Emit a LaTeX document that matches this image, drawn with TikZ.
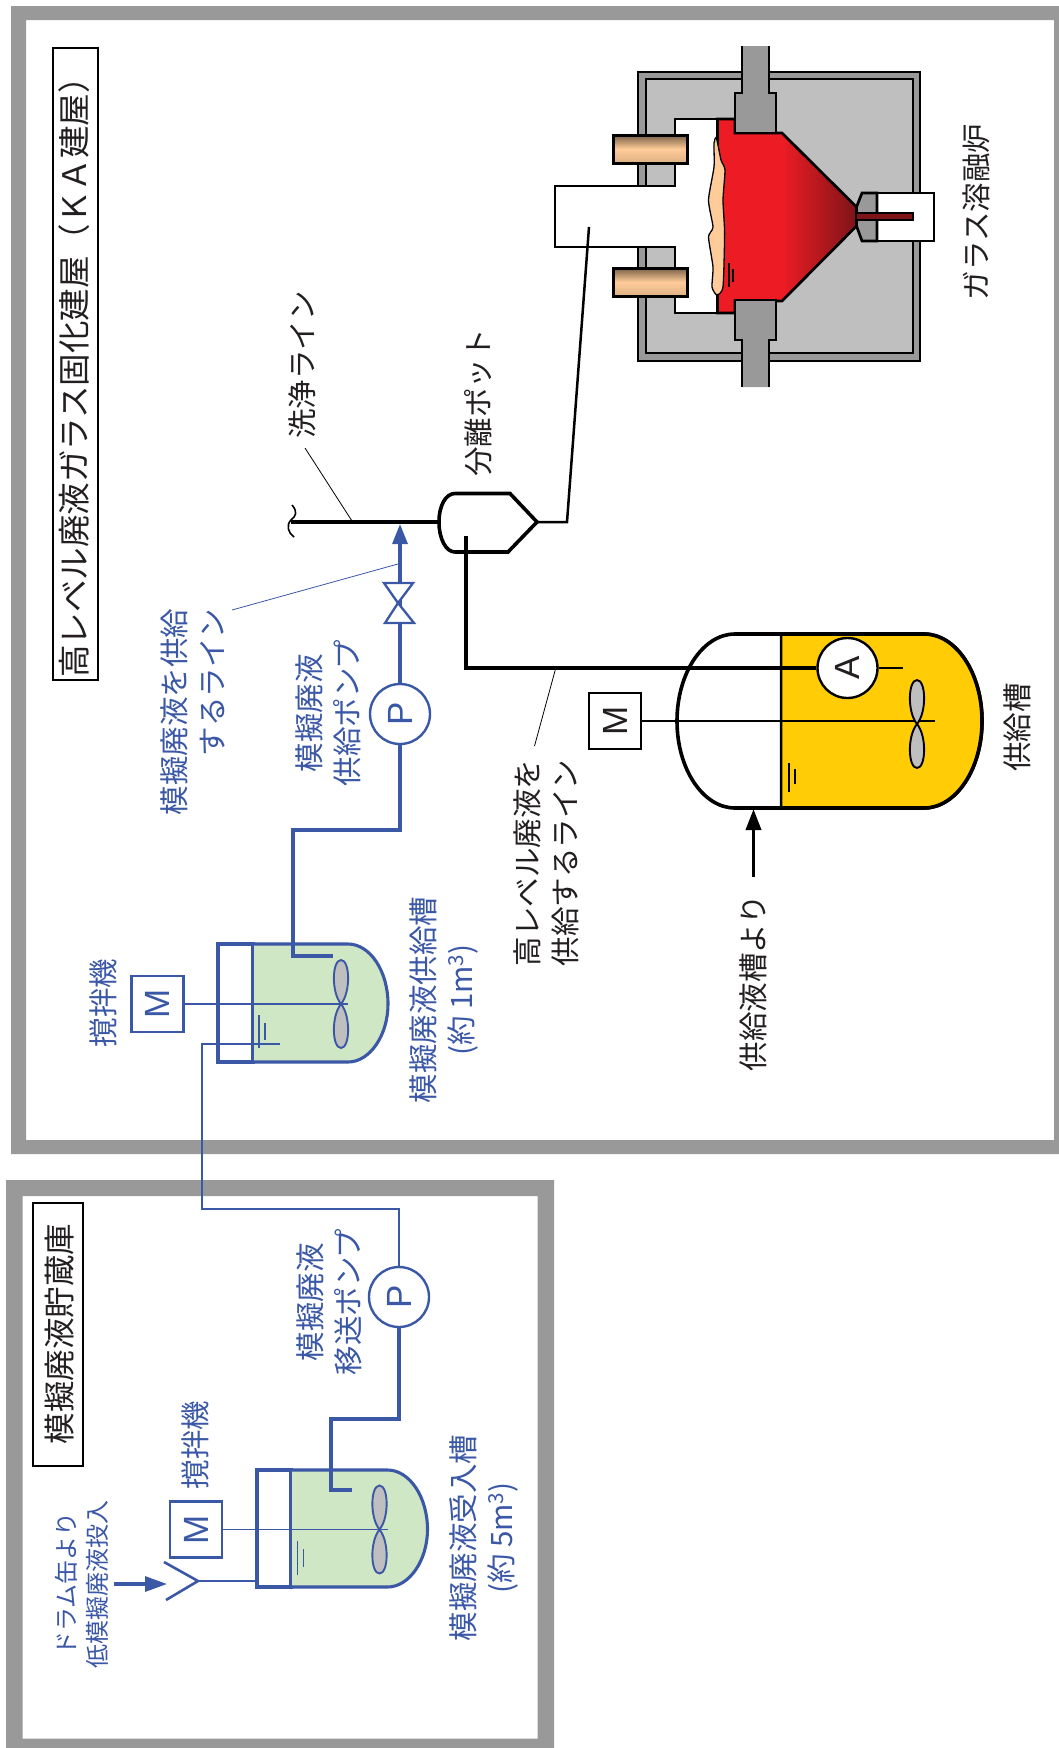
\documentclass[tikz,border=0pt]{standalone}
\usepackage{fontspec}
\setmainfont{Noto Sans CJK JP}
\newfontfamily\simbolo{Liberation Sans}
\usetikzlibrary{arrows.meta}

\definecolor{muro}{RGB}{153,153,153}
\definecolor{gris}{RGB}{191,191,191}
\definecolor{azul}{RGB}{59,88,166}
\definecolor{negro}{RGB}{35,31,32}
\definecolor{verde}{RGB}{208,231,197}
\definecolor{amarillo}{RGB}{255,204,5}
\definecolor{rojo}{RGB}{237,28,36}
\definecolor{rojooscuro}{RGB}{125,20,24}
\definecolor{crema}{RGB}{255,204,153}
\definecolor{marron}{RGB}{120,95,70}

\tikzset{
    etiqueta/.style={rotate=90, align=center, inner sep=0pt, text=negro, font=\fontsize{29.5}{38}\selectfont},
    etiquetaazul/.style={etiqueta, text=azul},
    caja/.style={draw=black, line width=2pt},
    bomba/.style={circle, draw, fill=white, minimum size=60pt, inner sep=0pt, rotate=90, line width=2.4pt, font=\simbolo\fontsize{35}{35}\selectfont},
    motor/.style={rectangle, draw, fill=white, minimum width=56pt, minimum height=52pt, inner sep=0pt, rotate=90, line width=2.2pt, font=\simbolo\fontsize{35}{35}\selectfont},
    tuboazul/.style={draw=azul, line width=3.1pt},
    tuboazulfino/.style={draw=azul, line width=2.6pt},
    tubonegro/.style={draw=black, line width=3.1pt},
    tubonegrofino/.style={draw=black, line width=2.5pt},
    linea/.style={draw=black, line width=2.7pt},
    recipiente/.style={draw=black, line width=3.6pt},
    guia/.style={line width=0.8pt},
    pics/helice/.style={code={
        \foreach \s in {1,-1}
            \draw[fill=gris, line width=1.9pt] (0,0) .. controls (-10,-12*\s) and (-9,-44*\s) .. (0,-44*\s)
                .. controls (9,-44*\s) and (10,-12*\s) .. (0,0);
    }},
}

\begin{document}
\begin{tikzpicture}[x=1pt, y=-1pt]
    \useasboundingbox (0,0) rectangle (1059,1748);
    \fill[white] (0,0) rectangle (1059,1748);

    % Muros
    \fill[muro, even odd rule] (11,6) rectangle (1059,1154) (26,20) rectangle (1054,1140);
    \fill[muro, even odd rule] (6,1180) rectangle (554,1748) (22.5,1196) rectangle (537.5,1738.5);

    % Titulos
    \draw[caja] (52.5,48) rectangle (97.5,680);
    \draw[caja] (33,1203) rectangle (83,1466);
    \node[etiqueta, font=\fontsize{32.5}{38}\selectfont] (tituloka) at (74.5,369.5) {高レベル廃液ガラス固化建屋（ＫＡ建屋）};
    \node[etiqueta, font=\fontsize{31.5}{38}\selectfont] (titulodepo) at (60,1334) {模擬廃液貯蔵庫};

    % Horno
    \draw[linea, fill=muro] (638,72) rectangle (920,361);
    \draw[linea, fill=gris] (646,79) rectangle (913,353);
    \draw[linea, fill=white] (717.5,119) -- (675,119) -- (675,186) -- (555,186) -- (555,247) -- (675,247) -- (675,313) -- (717.5,313);
    \fill[rojo] (717.5,119) -- (735,119) -- (735,133) -- (782,133) -- (782,301) -- (735,301) -- (735,313) -- (717.5,313) -- cycle;
    \shade[left color=rojo, right color=rojooscuro] (782,133) -- (856.5,207) -- (856.5,226) -- (782,301) -- cycle;
    \draw[linea] (717.5,119) -- (735,119) -- (735,133) -- (782,133) -- (856.5,207) -- (856.5,226) -- (782,301) -- (735,301) -- (735,313) -- (717.5,313) -- cycle;
    \filldraw[draw=black, line width=1.3pt, fill=crema] plot[smooth cycle, tension=0.35] coordinates {
        (716.4,138) (721,160) (725,170) (723,200) (724.6,233) (723,287) (716.8,295)
        (712,287) (713,267) (708.5,237) (713,227) (708.5,200) (714,167) (714,143)};
    \draw[line width=2pt] (729,263) -- (729,287);
    \draw[line width=1.8pt] (733,269) -- (733,282);

    % Electrodos
    \foreach \y/\s in {46/1, 387/-1}
        \draw[linea, fill=muro] (742,\y) -- (742,\y+47*\s) -- (735,\y+47*\s) -- (735,\y+87*\s) -- (776,\y+87*\s) -- (776,\y+47*\s) -- (769,\y+47*\s) -- (769,\y);
    \foreach \y in {135,268}
        \draw[draw=black, line width=3pt, top color=marron, bottom color=crema!75!marron, middle color=crema] (613,\y) rectangle (687,\y+28);

    % Boquilla
    \draw[linea, fill=white] (877,193) rectangle (934,241);
    \draw[linea, fill=muro] (856.5,207) -- (862,193) -- (877,193) -- (877,241) -- (862,241) -- (856.5,226) -- cycle;
    \draw[line width=1.8pt, fill=rojooscuro] (856.5,213) rectangle (913,220);
    \node[etiqueta] (horno) at (976,212) {ガラス溶融炉};

    % Tanque de alimentacion
    \draw[recipiente, fill=white] (735,634) .. controls (703,634) and (677,673) .. (677,721)
        .. controls (677,769) and (703,808) .. (735,808) -- (924,808)
        .. controls (956,808) and (982,769) .. (982,721) .. controls (982,673) and (956,634) .. (924,634) -- cycle;
    \draw[tubonegrofino, fill=amarillo] (781,634) -- (924,634) .. controls (956,634) and (982,673) .. (982,721)
        .. controls (982,769) and (956,808) .. (924,808) -- (781,808) -- cycle;
    \draw[recipiente] (735,634) -- (924,634) .. controls (956,634) and (982,673) .. (982,721)
        .. controls (982,769) and (956,808) .. (924,808) -- (735,808);
    \node[motor, draw=black, text=negro] (motorc) at (615,721) {M};
    \coordinate (ejec) at (935,721);
    \draw[tubonegrofino] (motorc) -- (ejec);
    \pic[line width=1.6pt] at (917,724) {helice};
    \draw[line width=1.7pt] (789,763) -- (789,792);
    \draw[line width=1.4pt] (795,769) -- (795,784);
    \node[etiqueta] (tanquec) at (1017,727.5) {供給槽};
    \coordinate (entradac) at (753.5,809);
    \coordinate (origenc) at (753.5,877);
    \draw[recipiente, -{Triangle[length=21pt,width=15pt]}] (origenc) -- (entradac);
    \node[etiqueta] (origen) at (753,983) {供給液槽より};

    % Olla de separacion
    \draw[recipiente, fill=white] (455,493.5) .. controls (446,493.5) and (439,505) .. (439,522)
        .. controls (439,539) and (446,552) .. (455,552) -- (508,552) -- (537,522) -- (510,493.5) -- cycle;
    \coordinate (olla) at (537,522);
    \coordinate (ollaizq) at (439,522);
    \coordinate (ollain) at (466,535.5);
    \coordinate (campana) at (589,227);
    \coordinate (corte) at (291,522);
    \node[etiqueta] (separador) at (478,403) {分離ポット};

    % Tuberias negras
    \node[bomba, draw=black, text=negro] (medidor) at (847.5,668) {A};
    \coordinate (finmedidor) at (903,668);
    \draw[tubonegro] (ollain) |- (medidor);
    \draw[tubonegrofino] (medidor) -- (finmedidor);
    \draw[tubonegrofino] (olla) -- (567,522) -- (campana);
    \draw[tubonegro] (corte) -- (ollaizq);
    \draw[line width=1.6pt] (292,505) .. controls (298,512) and (296,516) .. (291,520) .. controls (286,525) and (288,533) .. (294,537);
    \node[etiqueta] (lavado) at (302,365) {洗浄ライン};
    \coordinate (guialavado1) at (305,448);
    \coordinate (guialavado2) at (352,521);
    \draw[guia] (guialavado1) -- (guialavado2);
    \node[etiqueta] (lineaalta) at (546.5,863) {高レベル廃液を\\供給するライン};
    \coordinate (guiaalta1) at (555.5,669);
    \coordinate (guiaalta2) at (534.5,746);
    \draw[guia] (guiaalta1) -- (guiaalta2);

    % Tanques verdes
    \foreach \l/\d/\s/\t/\b/\m in {257/291/387.5/1470/1587/1529.5, 218/253/348/944/1062/1004} {
        \draw[tuboazul, fill=white] (\l,\t) rectangle (\d,\b);
        \fill[verde] (\d,\t) -- (\s,\t) .. controls (\s+22,\t) and (\s+40,\t+27) .. (\s+40,\m)
            .. controls (\s+40,\b-27) and (\s+22,\b) .. (\s,\b) -- (\d,\b) -- cycle;
        \draw[tuboazul] (\d,\t) -- (\s,\t) .. controls (\s+22,\t) and (\s+40,\t+27) .. (\s+40,\m)
            .. controls (\s+40,\b-27) and (\s+22,\b) .. (\s,\b) -- (\d,\b);
        \draw[azul, line width=1.7pt] (\d,\t) -- (\d,\b);
    }
    \node[motor, draw=azul, text=azul] (motora) at (196,1529.5) {M};
    \node[motor, draw=azul, text=azul] (motorb) at (157.5,1004) {M};
    \coordinate (ejea) at (387.5,1529.5);
    \coordinate (ejeb) at (348,1004);
    \draw[azul, line width=1.9pt] (motora) -- (ejea);
    \draw[azul, line width=1.9pt] (motorb) -- (ejeb);
    \pic[draw=azul] at (379.5,1529.5) {helice};
    \pic[draw=azul] at (341,1004) {helice};

    % Niveles
    \foreach \x/\y/\h/\k in {297.5/1541/1574.5/8, 259/1015/1048/8} {
        \draw[azul, line width=1.6pt] (\x,\y) -- (\x,\h);
        \draw[azul, line width=1.4pt] (\x+6,\y+\k) -- (\x+6,\h-\k);
    }

    % Tuberias azules
    \node[bomba, draw=azul, text=azul] (bomba1) at (400,714) {P};
    \node[bomba, draw=azul, text=azul] (bomba2) at (399,1297) {P};
    \coordinate (flecha) at (400,524);
    \coordinate (valvula) at (398,603);
    \coordinate (entradab) at (280,1044);
    \coordinate (salidab) at (333,956);
    \coordinate (salidaa) at (352,1490);
    \coordinate (embudo) at (198,1581);
    \coordinate (tanquea) at (257,1581);
    \coordinate (origena) at (113.5,1584);
    \coordinate (puntaa) at (167,1584);
    \draw[tuboazul, -{Triangle[length=20pt,width=15pt]}] (bomba1) -- (flecha);
    \draw[tuboazul] (bomba1) -- (400,830) -- (293,830) -- (293,956) -- (salidab);
    \draw[tuboazulfino] (entradab) -- (202,1044) -- (202,1209) -- (399,1209) -- (bomba2);
    \draw[tuboazul] (bomba2) -- (399,1419) -- (331,1419) -- (331,1490) -- (salidaa);
    \draw[tuboazulfino] (embudo) -- (tanquea);
    \draw[tuboazulfino] (164,1562) -- (embudo) -- (166,1600);
    \draw[tuboazul, line width=3.2pt, -{Triangle[length=22pt,width=15pt]}] (origena) -- (puntaa);

    % Valvula
    \draw[azul, line width=2.3pt, fill=white] (384,583) -- (413,583) -- (valvula) -- (414,623) -- (385,623) -- (valvula) -- cycle;

    % Guia azul
    \coordinate (guiaazul1) at (398,564);
    \coordinate (guiaazul2) at (232,610);
    \draw[azul, guia] (guiaazul1) -- (guiaazul2);

    % Etiquetas azules
    \node[etiquetaazul, align=right] (lineaazul) at (192.5,712) {模擬廃液を供給\\するライン};
    \node[etiquetaazul] (nombrebomba1) at (328,713) {模擬廃液\\供給ポンプ};
    \node[etiquetaazul] (nombrebomba2) at (329,1302) {模擬廃液\\移送ポンプ};
    \node[etiquetaazul] (nombreb) at (444,1000) {模擬廃液供給槽\\(約 1m\textsuperscript{3})};
    \node[etiquetaazul] (nombrea) at (483.5,1538) {模擬廃液受入槽\\(約 5m\textsuperscript{3})};
    \node[etiquetaazul] (agitadorb) at (103,1003) {撹拌機};
    \node[etiquetaazul] (agitadora) at (195,1445) {撹拌機};
    \node[etiquetaazul, font=\fontsize{24}{31}\selectfont] (tambor) at (81.5,1584) {ドラム缶より\\低模擬廃液投入};
\end{tikzpicture}
\end{document}
